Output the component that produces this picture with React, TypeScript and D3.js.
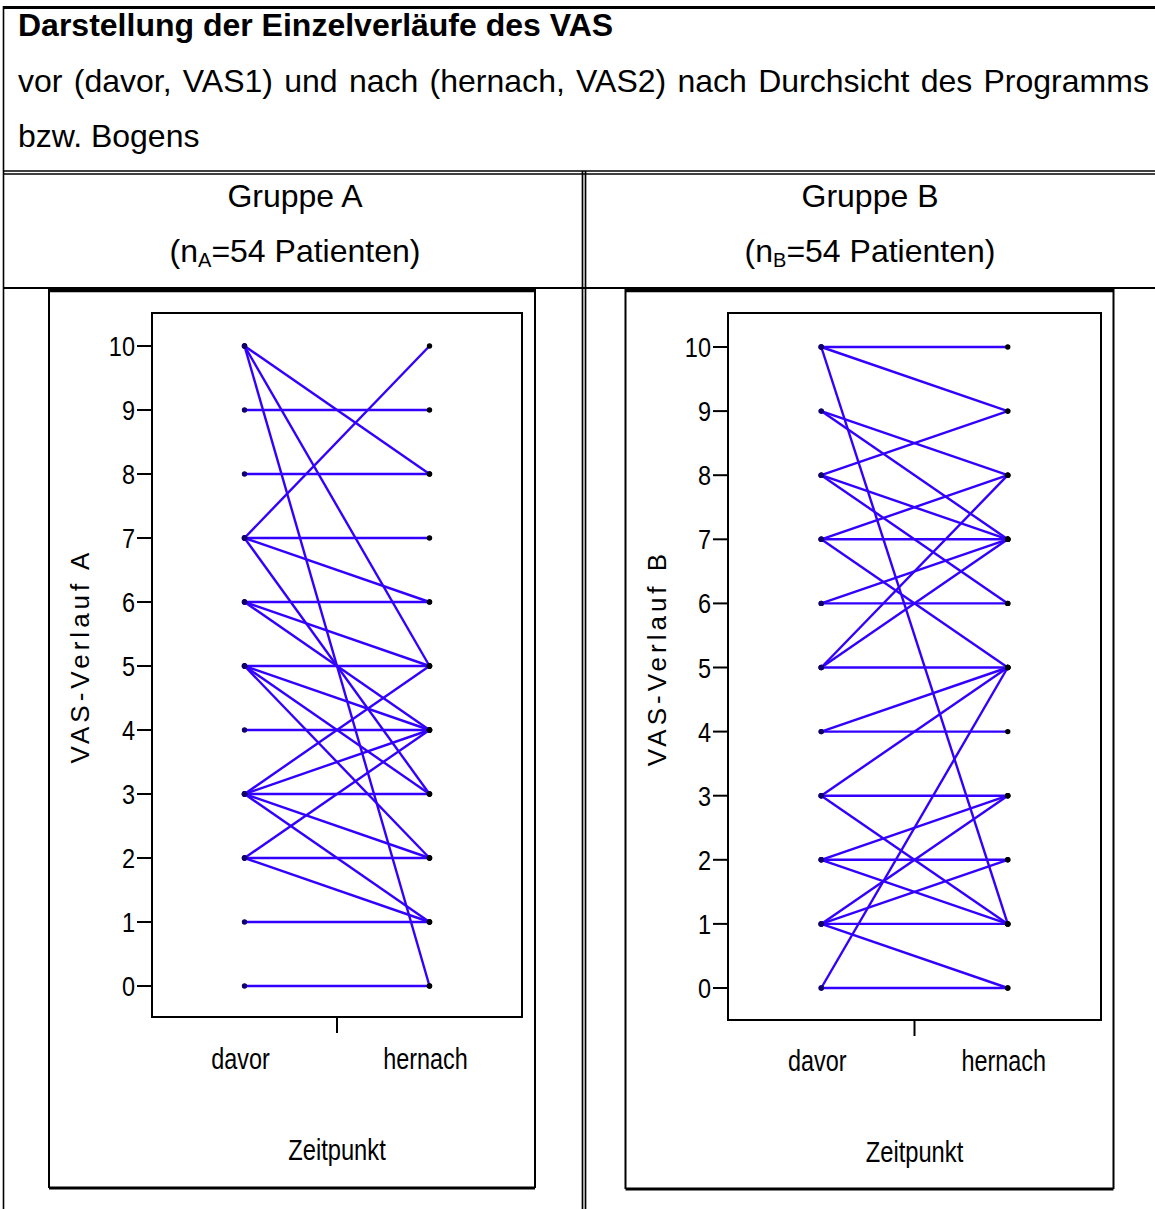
import React from "react";
import * as d3 from "d3";

const W = 1155;
const H = 1209;

// Categories of the x axis and VAS scale ticks
const timepoints = ["davor", "hernach"];
const vasTicks = [0, 1, 2, 3, 4, 5, 6, 7, 8, 9, 10];

// Group A: individual courses (VAS before -> VAS after)
const groupADavor = [10, 10, 10, 9, 8, 7, 7, 7, 7, 6, 6, 6, 5, 5, 5, 5, 4, 3, 3, 3, 3, 3, 2, 2, 2, 1, 0];
const groupAHernach = [8, 5, 0, 9, 8, 10, 7, 6, 3, 6, 5, 4, 5, 4, 3, 2, 4, 5, 4, 3, 2, 1, 4, 2, 1, 1, 0];

// Group B: individual courses (VAS before -> VAS after)
const groupBDavor = [10, 10, 10, 9, 9, 8, 8, 8, 7, 7, 7, 6, 6, 5, 5, 5, 4, 4, 3, 3, 3, 2, 2, 2, 1, 1, 1, 1, 0, 0];
const groupBHernach = [10, 9, 1, 8, 7, 9, 7, 6, 8, 7, 5, 7, 6, 8, 7, 5, 5, 4, 5, 3, 1, 3, 2, 1, 3, 2, 1, 0, 5, 0];

const LINE_COLOR = "#3300ff";
const FONT = "'Liberation Sans', Arial, Helvetica, sans-serif";

type PanelLayout = {
  frame: { x0: number; x1: number; y0: number; y1: number };
  box: { x0: number; x1: number; y0: number; y1: number };
  yRange: [number, number];
  yLabel: string;
  yLabelX: number;
  yLabelY: number;
  catBaseline: number;
  titleBaseline: number;
};

const NText = ({ x, y, size, sx, anchor, children }: any) => (
  <text
    transform={`translate(${x},${y}) scale(${sx},1)`}
    textAnchor={anchor}
    fontSize={size}
    fontFamily={FONT}
    fill="#000"
  >
    {children}
  </text>
);

function Panel({ layout, davor, hernach }: { layout: PanelLayout; davor: number[]; hernach: number[] }) {
  const { frame, box } = layout;
  const xBand = d3.scaleBand<string>().domain(timepoints).range([box.x0, box.x1]);
  const xPos = (t: string) => (xBand(t) as number) + xBand.bandwidth() / 2;
  const y = d3.scaleLinear().domain([0, 10]).range(layout.yRange);
  const lineGen = d3
    .line<[string, number]>()
    .x((d) => xPos(d[0]))
    .y((d) => y(d[1]));

  const pairs = davor.map((v, i) => [v, hernach[i]]);
  const innerTicks = timepoints.slice(1).map((t) => xBand(t) as number);

  return (
    <g>
      {/* chart object frame */}
      <line x1={frame.x0} x2={frame.x1} y1={frame.y0 + 1.5} y2={frame.y0 + 1.5} stroke="#000" strokeWidth={3.5} />
      <line x1={frame.x0} x2={frame.x1} y1={frame.y1} y2={frame.y1} stroke="#000" strokeWidth={3} />
      <line x1={frame.x0} x2={frame.x0} y1={frame.y0} y2={frame.y1} stroke="#000" strokeWidth={2} />
      <line x1={frame.x1} x2={frame.x1} y1={frame.y0} y2={frame.y1} stroke="#000" strokeWidth={2} />

      {/* plot area */}
      <rect x={box.x0} y={box.y0} width={box.x1 - box.x0} height={box.y1 - box.y0} fill="none" stroke="#000" strokeWidth={2} />

      {/* y axis ticks */}
      {vasTicks.map((t) => (
        <g key={t}>
          <line x1={box.x0 - 15} x2={box.x0} y1={y(t)} y2={y(t)} stroke="#000" strokeWidth={2} />
          <NText x={box.x0 - 17} y={y(t) + 10} size={28} sx={0.84} anchor="end">
            {t}
          </NText>
        </g>
      ))}

      {/* x axis ticks between categories */}
      {innerTicks.map((xt, i) => (
        <line key={i} x1={xt} x2={xt} y1={box.y1} y2={box.y1 + 16} stroke="#000" strokeWidth={2} />
      ))}
      {timepoints.map((t) => (
        <NText key={t} x={xPos(t) - 4} y={layout.catBaseline} size={30} sx={0.78} anchor="middle">
          {t}
        </NText>
      ))}
      <NText x={(box.x0 + box.x1) / 2} y={layout.titleBaseline} size={30} sx={0.79} anchor="middle">
        Zeitpunkt
      </NText>

      {/* y axis title */}
      <text
        transform={`translate(${layout.yLabelX},${layout.yLabelY}) rotate(-90)`}
        textAnchor="middle"
        fontSize={26}
        fontFamily={FONT}
        letterSpacing={4}
        fill="#000"
      >
        {layout.yLabel}
      </text>

      {/* individual courses */}
      {pairs.map(([a, b], i) => (
        <path
          key={i}
          d={lineGen([
            [timepoints[0], a],
            [timepoints[1], b],
          ]) as string}
          fill="none"
          stroke={LINE_COLOR}
          strokeWidth={2.4}
        />
      ))}
      {pairs.map(([a, b], i) => (
        <g key={"p" + i}>
          <circle cx={xPos(timepoints[0])} cy={y(a)} r={2.7} fill="#10006a" />
          <circle cx={xPos(timepoints[1])} cy={y(b)} r={2.7} fill="#000" />
        </g>
      ))}
    </g>
  );
}

const panelA: PanelLayout = {
  frame: { x0: 49, x1: 535, y0: 289, y1: 1188 },
  box: { x0: 152, x1: 522, y0: 313, y1: 1017 },
  yRange: [986, 346],
  yLabel: "VAS-Verlauf A",
  yLabelX: 89,
  yLabelY: 656,
  catBaseline: 1069,
  titleBaseline: 1160,
};

const panelB: PanelLayout = {
  frame: { x0: 625.5, x1: 1113.5, y0: 289, y1: 1189 },
  box: { x0: 728, x1: 1101, y0: 313, y1: 1020 },
  yRange: [988, 347],
  yLabel: "VAS-Verlauf B",
  yLabelX: 666,
  yLabelY: 658,
  catBaseline: 1071,
  titleBaseline: 1162,
};

export default function App() {
  const textSize = 32;
  return (
    <svg
      width={W}
      height={H}
      viewBox={`0 0 ${W} ${H}`}
      style={{ position: "absolute", left: 0, top: 0, background: "#fff" }}
    >
      <rect x={0} y={0} width={W} height={H} fill="#fff" />

      {/* table grid */}
      <line x1={3} x2={W} y1={7.5} y2={7.5} stroke="#000" strokeWidth={3} />
      <line x1={3.5} x2={3.5} y1={6} y2={H} stroke="#000" strokeWidth={1.6} />
      <line x1={3} x2={W} y1={171} y2={171} stroke="#000" strokeWidth={1.6} />
      <line x1={3} x2={W} y1={174} y2={174} stroke="#000" strokeWidth={1.6} />
      <line x1={582.5} x2={582.5} y1={171} y2={H} stroke="#000" strokeWidth={1.7} />
      <line x1={585.5} x2={585.5} y1={171} y2={H} stroke="#000" strokeWidth={1.7} />
      <line x1={3} x2={W} y1={288} y2={288} stroke="#000" strokeWidth={1.8} />

      {/* heading */}
      <text x={18} y={36} fontSize={textSize} fontWeight="bold" fontFamily={FONT} fill="#000">
        Darstellung der Einzelverläufe des VAS
      </text>
      <text x={18} y={92} fontSize={textSize} fontFamily={FONT} wordSpacing={2.4} fill="#000">
        vor (davor, VAS1) und nach (hernach, VAS2) nach Durchsicht des Programms
      </text>
      <text x={18} y={147} fontSize={textSize} fontFamily={FONT} fill="#000">
        bzw. Bogens
      </text>

      {/* column headers */}
      <text x={295} y={207} fontSize={textSize} fontFamily={FONT} textAnchor="middle" fill="#000">
        Gruppe A
      </text>
      <text x={295} y={262} fontSize={textSize} fontFamily={FONT} textAnchor="middle" fill="#000">
        (n<tspan fontSize={20} dy={5}>A</tspan>
        <tspan dy={-5}>=54 Patienten)</tspan>
      </text>
      <text x={870} y={207} fontSize={textSize} fontFamily={FONT} textAnchor="middle" fill="#000">
        Gruppe B
      </text>
      <text x={870} y={262} fontSize={textSize} fontFamily={FONT} textAnchor="middle" fill="#000">
        (n<tspan fontSize={20} dy={5}>B</tspan>
        <tspan dy={-5}>=54 Patienten)</tspan>
      </text>

      <Panel layout={panelA} davor={groupADavor} hernach={groupAHernach} />
      <Panel layout={panelB} davor={groupBDavor} hernach={groupBHernach} />
    </svg>
  );
}
